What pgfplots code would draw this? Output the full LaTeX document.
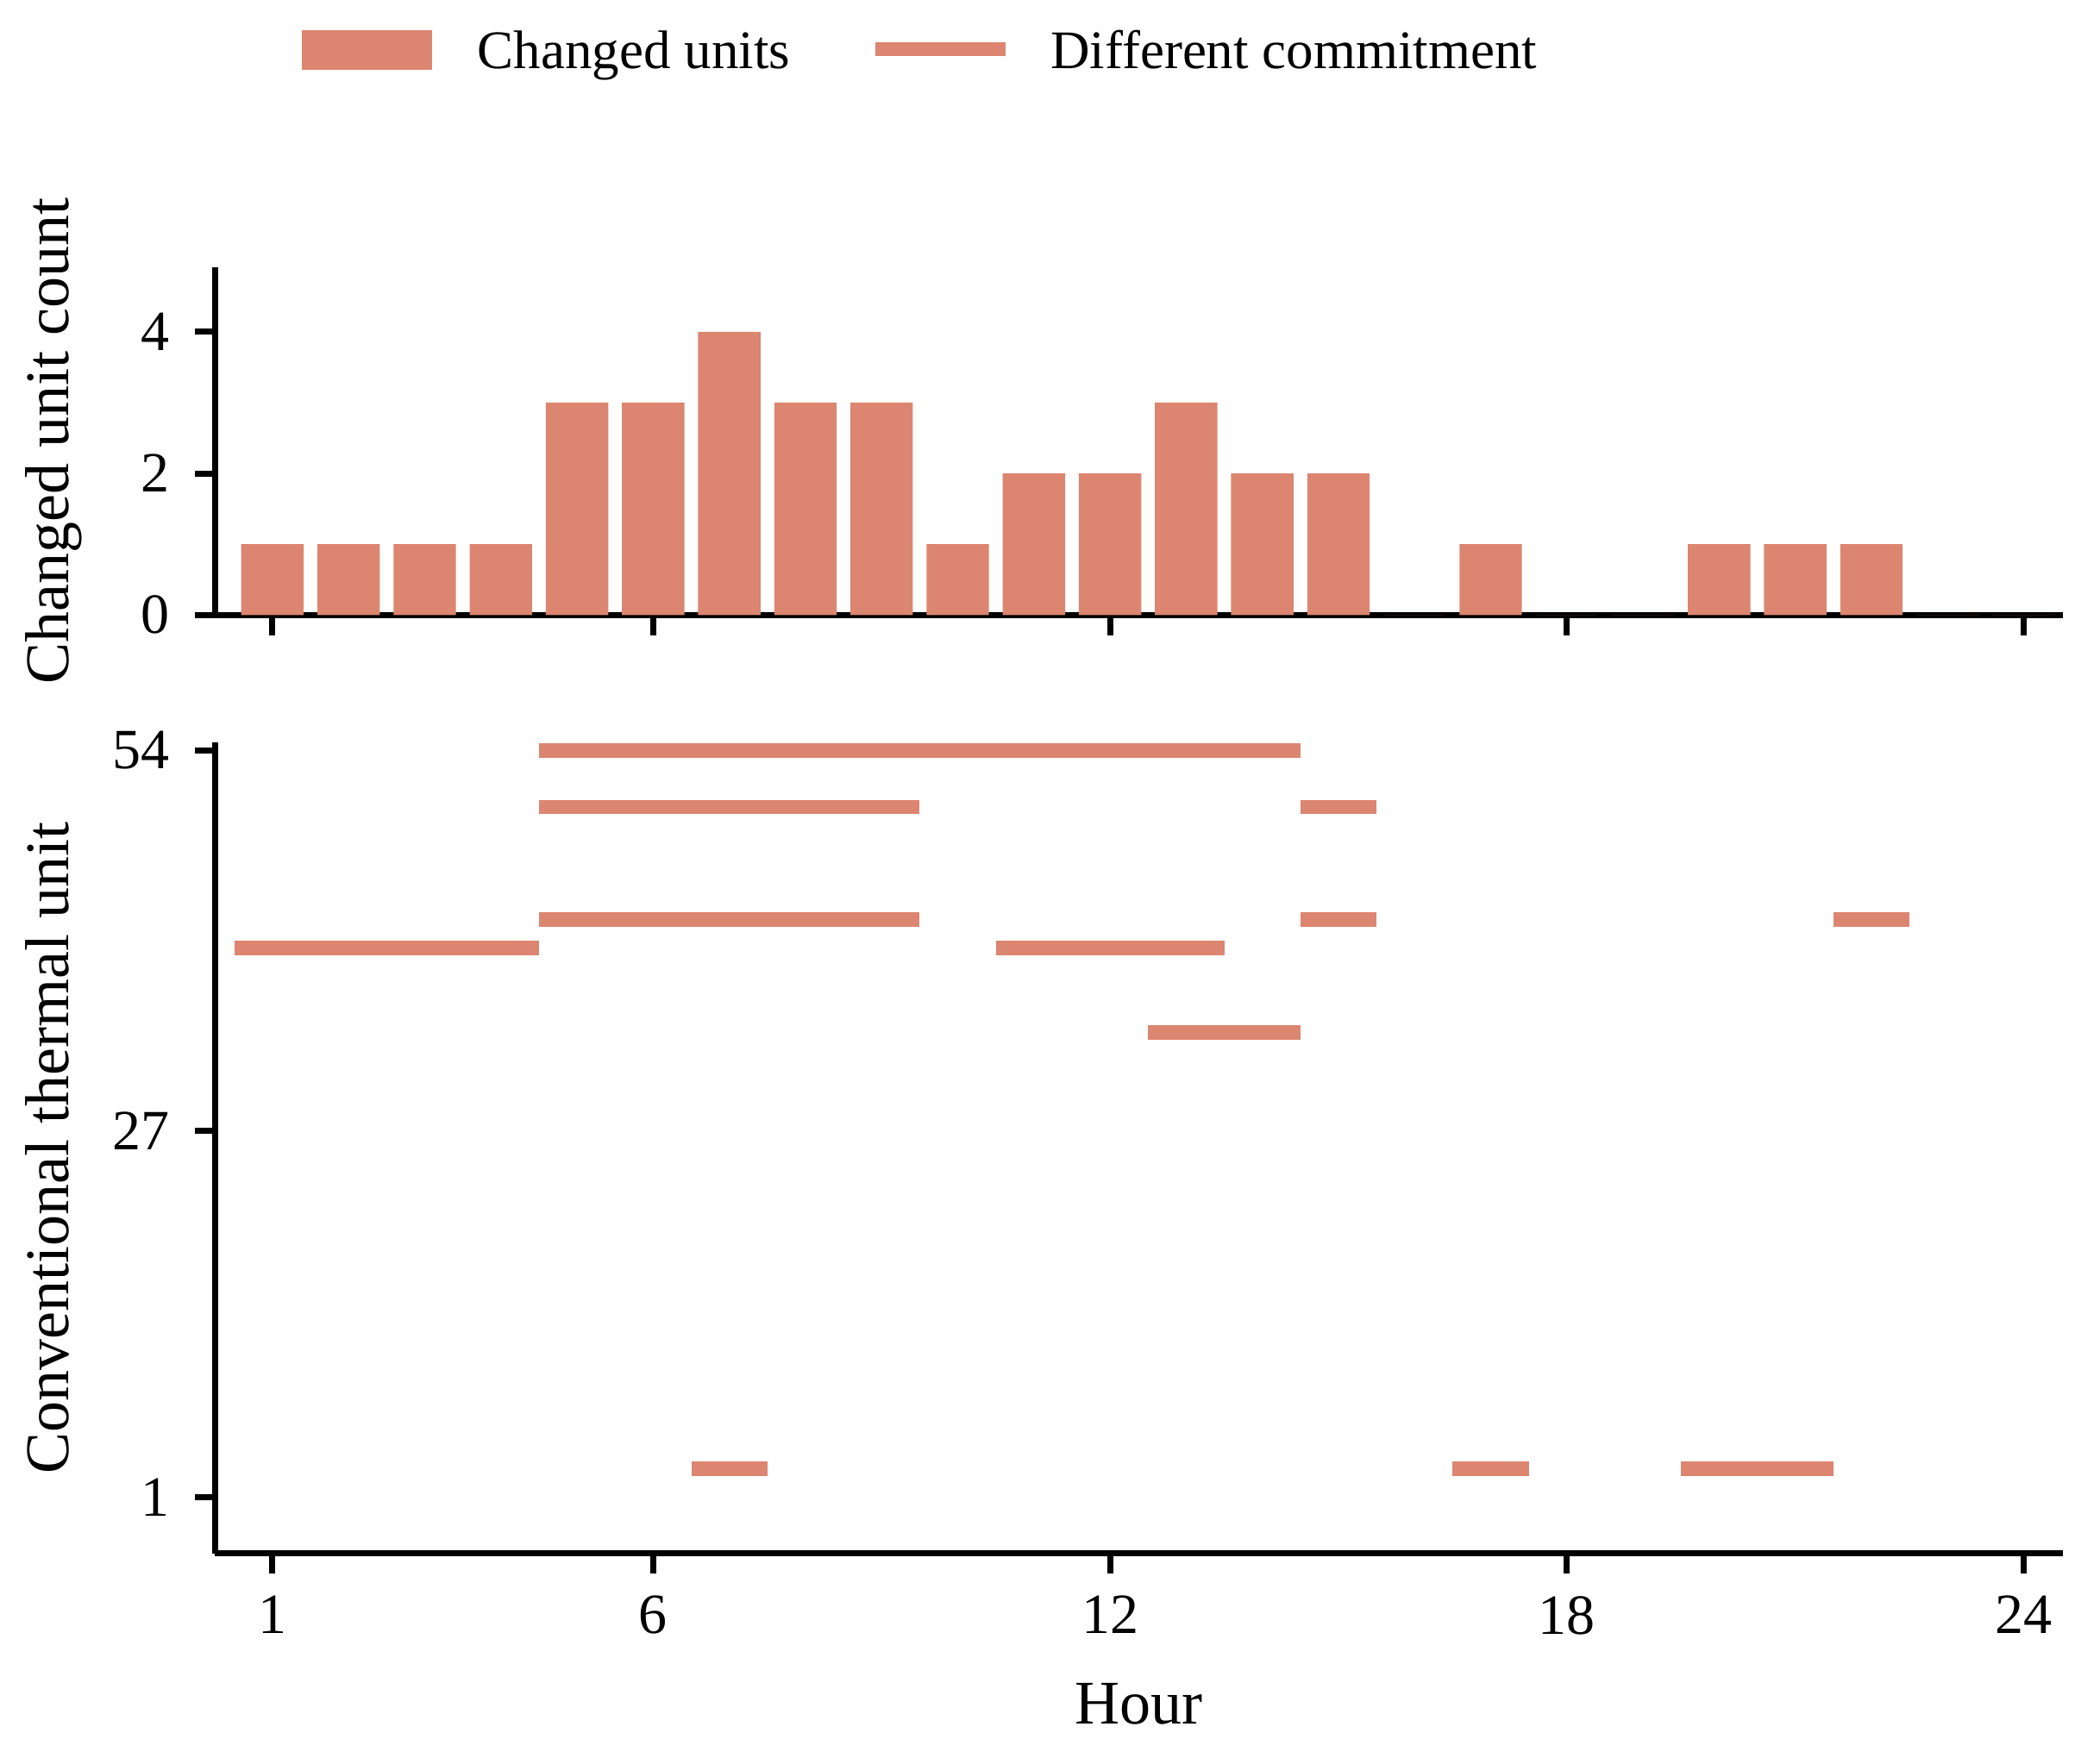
\documentclass[border=0pt]{standalone}
\usepackage{fontspec}
\setmainfont{Liberation Serif}
\usepackage{pgfplots}
\pgfplotsset{compat=1.18}
\definecolor{salmon}{RGB}{220,133,112}
\begin{document}
\begin{tikzpicture}
\pgfplotsset{
  myax/.style={
    scale only axis, width=357.2pt, xmin=0.245, xmax=24.52,
    axis x line*=bottom, axis y line*=left,
    axis line style={line width=1.15pt, black, -},
    tick align=outside, major tick length=3.9pt,
    every tick/.style={line width=1.15pt, black},
    xtick={1,6,12,18,24},
    tick label style={font=\fontsize{11}{13}\selectfont},
    xticklabel style={yshift=-0.8pt},
    yticklabel style={xshift=-1.4pt},
    /pgf/number format/assume math mode=true,
    label style={font=\fontsize{12}{14}\selectfont},
  }
}
\begin{axis}[myax, name=bot, at={(0pt,0pt)}, anchor=south west,
  height=156.83pt, ymin=-3, ymax=54.6, ytick={1,27,54},
  xlabel={Hour}, ylabel={Conventional thermal unit},
  xlabel style={at={(axis description cs:0.5,-0.2098)}, anchor=base},
  ylabel style={at={(axis description cs:-0.0793,0.5)}, anchor=base},
]
\addplot[salmon, line width=2.78pt, line cap=butt, unbounded coords=jump] coordinates {
(4.5,54) (14.5,54) (nan,nan)
(4.5,50) (9.5,50) (nan,nan) (14.5,50) (15.5,50) (nan,nan)
(4.5,42) (9.5,42) (nan,nan) (14.5,42) (15.5,42) (nan,nan) (21.5,42) (22.5,42) (nan,nan)
(0.5,40) (4.5,40) (nan,nan) (10.5,40) (13.5,40) (nan,nan)
(12.5,34) (14.5,34) (nan,nan)
(6.5,3) (7.5,3) (nan,nan) (16.5,3) (17.5,3) (nan,nan) (19.5,3) (21.5,3)
};
\end{axis}
\begin{axis}[myax, name=top, at={(0pt,181.4pt)}, anchor=south west,
  height=67.2pt, ymin=0, ymax=4.91, ytick={0,2,4}, xticklabels={},
  ylabel={Changed unit count},
  ylabel style={at={(axis description cs:-0.0793,0.5)}, anchor=base},
  legend columns=2,
  legend cell align=left,
  legend style={draw=none, fill=none, at={(axis description cs:0.047,1.682)}, anchor=north west,
    inner sep=0pt, outer sep=0pt, font=\fontsize{10.5}{12}\selectfont,
    /tikz/every odd column/.append style={column sep=7.3pt},
    /tikz/every even column/.append style={column sep=15.2pt},
    nodes={inner sep=0pt}},
]
\addplot[ybar, bar width=0.82, bar shift=0pt, fill=salmon, draw=none,
  legend image code/.code={\fill[salmon] (0pt,-3.2pt) rectangle (25.17pt,4.5pt); \path (26.67pt,0pt);}]
  coordinates {(1,1) (2,1) (3,1) (4,1) (5,3) (6,3) (7,4) (8,3) (9,3) (10,1) (11,2) (12,2)
  (13,3) (14,2) (15,2) (16,0) (17,1) (18,0) (19,0) (20,1) (21,1) (22,1) (23,0) (24,0)};
\addlegendentry{Changed units}
\addlegendimage{legend image code/.code={\draw[salmon, line width=2.7pt, line cap=butt] (0pt,0.8pt) -- (25.17pt,0.8pt);}}
\addlegendentry{Different commitment}
\end{axis}
\pgfresetboundingbox
\path[use as bounding box] ([shift={(-41.55pt,-39.4pt)}]bot.south west) rectangle ([shift={(364.3pt,300.3pt)}]bot.south west);
\end{tikzpicture}
\end{document}
